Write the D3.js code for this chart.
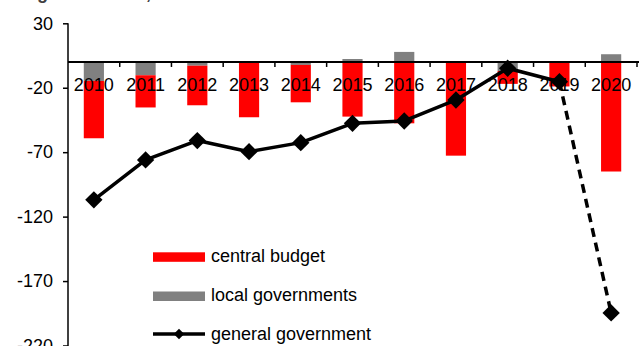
<!DOCTYPE html>
<html><head><meta charset="utf-8">
<script src="https://cdn.jsdelivr.net/npm/d3@7"></script>
<style>body{margin:0;background:#fff}svg{display:block}text{font-family:"Liberation Sans",Arial,sans-serif}</style>
</head><body>
<svg id="c" width="639" height="346"></svg>
<script>
const years = ["2010","2011","2012","2013","2014","2015","2016","2017","2018","2019","2020"];
const centralBudget = [-44.5, -25, -30.7, -42.4, -29, -42.4, -47.6, -72.7, -10, -19, -85];
const localGov = [-14.7, -10.3, -2.9, -0.5, -2.3, 2.3, 7.8, 0, -7, 0, 6];
const generalGov = [-107, -76, -61, -69.6, -62.6, -47.6, -45.8, -29.5, -4.9, -15.3, -194.7];
const yTicks = [30, -20, -70, -120, -170, -220];
const title = "Budget balances, PLN bn";
const legendLabels = ["central budget", "local governments", "general government"];

const svg = d3.select("#c");
const x = d3.scaleBand().domain(years).range([68, 637]).padding(0);
const y = d3.scaleLinear().domain([-220, 30]).range([345.5, 23.3]);
const bw = x.bandwidth() * 0.39;
const cx = d => x(d) + x.bandwidth() / 2;

svg.append("text").attr("x", 2).attr("y", -1).attr("font-size", 18).attr("font-weight", "bold")
  .attr("fill", "#404040").text(title);

// bars
const bars = years.map((yr, i) => {
  const l = localGov[i], c = centralBudget[i];
  const out = [];
  out.push({yr, y0: 0, y1: l, color: "#808080"});
  const base = l < 0 && c < 0 ? l : 0;
  out.push({yr, y0: base, y1: base + c, color: "#FF0000"});
  return out;
}).flat();
svg.append("g").selectAll("rect").data(bars).join("rect")
  .attr("x", d => cx(d.yr) - bw / 2).attr("width", bw)
  .attr("y", d => y(Math.max(d.y0, d.y1)))
  .attr("height", d => Math.abs(y(d.y0) - y(d.y1)))
  .attr("fill", d => d.color);

// y axis
const ya = d3.axisLeft(y).tickValues(yTicks).tickFormat(d => String(d)).tickSize(5).tickSizeOuter(0).tickPadding(10);
const yg = svg.append("g").attr("transform", "translate(68,0)").call(ya);
yg.select(".domain").attr("stroke", "#000").attr("stroke-width", 1.5).attr("d", "M0,23.3V346");
yg.selectAll(".tick line").attr("stroke", "#000").attr("stroke-width", 1.5);
yg.selectAll("text").attr("font-size", 18).attr("fill", "#000").attr("font-family", "Liberation Sans, Arial, sans-serif");

// x axis at zero
const y0 = y(0);
svg.append("line").attr("x1", 68).attr("x2", 639).attr("y1", y0).attr("y2", y0)
  .attr("stroke", "#000").attr("stroke-width", 2);
svg.append("g").selectAll("line").data(years).join("line")
  .attr("x1", d => x(d) + x.bandwidth())
  .attr("x2", d => x(d) + x.bandwidth())
  .attr("y1", y0).attr("y2", y0 + 5).attr("stroke", "#000").attr("stroke-width", 1.5);
svg.append("g").selectAll("text").data(years).join("text")
  .attr("x", d => cx(d)).attr("y", y0 + 29).attr("text-anchor", "middle")
  .attr("font-size", 18).attr("fill", "#000").text(d => d);

// general government line
const pts = years.map((yr, i) => ({yr, v: generalGov[i]}));
const line = d3.line().x(d => cx(d.yr)).y(d => y(d.v));
svg.append("path").datum(pts.slice(0, 10)).attr("d", line)
  .attr("fill", "none").attr("stroke", "#000").attr("stroke-width", 3.5).attr("stroke-linejoin", "round");
svg.append("path").datum(pts.slice(9)).attr("d", line)
  .attr("fill", "none").attr("stroke", "#000").attr("stroke-width", 3.5).attr("stroke-dasharray", "9,6");
svg.append("g").selectAll("path").data(pts).join("path")
  .attr("d", d3.symbol().type(d3.symbolSquare).size(150)())
  .attr("transform", d => `translate(${cx(d.yr)},${y(d.v)}) rotate(45)`)
  .attr("fill", "#000");

// legend
const lg = svg.append("g");
lg.append("rect").attr("x", 153).attr("y", 252.3).attr("width", 52).attr("height", 9.5).attr("fill", "#FF0000");
lg.append("rect").attr("x", 153).attr("y", 291.5).attr("width", 52).attr("height", 9.5).attr("fill", "#808080");
lg.append("line").attr("x1", 153).attr("x2", 205).attr("y1", 334).attr("y2", 334).attr("stroke", "#000").attr("stroke-width", 3.5);
lg.append("path").attr("d", d3.symbol().type(d3.symbolSquare).size(55)())
  .attr("transform", "translate(179,334) rotate(45)").attr("fill", "#000");
lg.selectAll("text").data(legendLabels).join("text")
  .attr("x", 211).attr("y", (d, i) => 262 + i * 39).attr("font-size", 18).attr("fill", "#000").text(d => d);
</script>
</body></html>
